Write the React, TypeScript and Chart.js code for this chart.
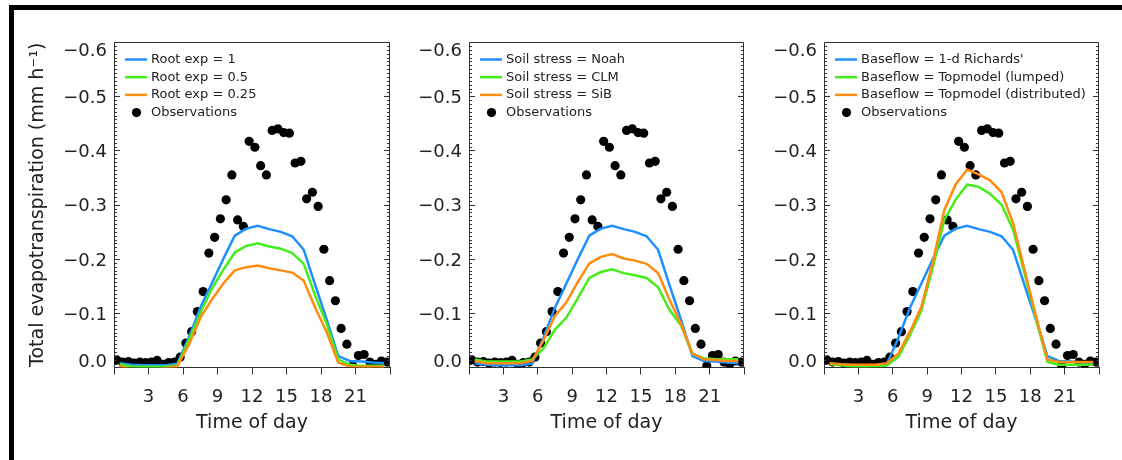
import React, { useEffect, useRef } from "react";
import { Chart, registerables } from "chart.js";

Chart.register(...registerables);

// ---------------- data ----------------
const obsHours = [
  0.25, 0.75, 1.25, 1.75, 2.25, 2.75, 3.25, 3.75, 4.25, 4.75, 5.25, 5.75,
  6.25, 6.75, 7.25, 7.75, 8.25, 8.75, 9.25, 9.75, 10.25, 10.75, 11.25, 11.75,
  12.25, 12.75, 13.25, 13.75, 14.25, 14.75, 15.25, 15.75, 16.25, 16.75, 17.25, 17.75,
  18.25, 18.75, 19.25, 19.75, 20.25, 20.75, 21.25, 21.75, 22.25, 22.75, 23.25, 23.75,
];
const observations = [
  -0.014, -0.010, -0.011, -0.008, -0.010, -0.009, -0.010, -0.013, -0.006, -0.009, -0.010, -0.019,
  -0.045, -0.066, -0.103, -0.140, -0.211, -0.240, -0.274, -0.309, -0.355, -0.272, -0.260, -0.417,
  -0.406, -0.372, -0.355, -0.437, -0.440, -0.433, -0.432, -0.377, -0.380, -0.311, -0.323, -0.297,
  -0.218, -0.160, -0.123, -0.072, -0.043, -0.003, -0.022, -0.024, -0.010, -0.006, -0.012, -0.010,
];

const modelHours = [
  0.5, 1.5, 2.5, 3.5, 4.5, 5.5, 6.5, 7.5, 8.5, 9.5, 10.5, 11.5,
  12.5, 13.5, 14.5, 15.5, 16.5, 17.5, 18.5, 19.5, 20.5, 21.5, 22.5, 23.5,
];
// control run (blue in every panel)
const controlRun = [
  -0.008, -0.005, -0.004, -0.004, -0.004, -0.007, -0.055, -0.110, -0.155, -0.200, -0.243, -0.256,
  -0.261, -0.255, -0.250, -0.242, -0.217, -0.152, -0.088, -0.021, -0.012, -0.011, -0.009, -0.008,
];
const rootExpHalf = [
  -0.006, -0.002, -0.0015, -0.0015, -0.0015, -0.004, -0.050, -0.100, -0.145, -0.180, -0.212, -0.224,
  -0.229, -0.223, -0.219, -0.211, -0.191, -0.132, -0.080, -0.015, -0.005, -0.003, -0.003, -0.003,
];
const rootExpQuarter = [
  -0.003, 0.004, 0.004, 0.004, 0.001, -0.002, -0.042, -0.091, -0.125, -0.155, -0.179, -0.185,
  -0.188, -0.183, -0.179, -0.175, -0.160, -0.110, -0.065, -0.009, -0.002, -0.0015, -0.0015, -0.0015,
];
const stressCLM = [
  -0.015, -0.011, -0.011, -0.011, -0.011, -0.015, -0.035, -0.070, -0.092, -0.128, -0.165, -0.176,
  -0.181, -0.174, -0.170, -0.165, -0.148, -0.106, -0.078, -0.025, -0.017, -0.015, -0.015, -0.015,
];
const stressSiB = [
  -0.012, -0.008, -0.008, -0.008, -0.008, -0.012, -0.050, -0.095, -0.120, -0.158, -0.192, -0.204,
  -0.209, -0.201, -0.197, -0.191, -0.174, -0.125, -0.080, -0.026, -0.015, -0.014, -0.012, -0.012,
];
const topmodelLumped = [
  -0.006, -0.004, -0.002, -0.002, -0.002, -0.004, -0.020, -0.060, -0.105, -0.185, -0.272, -0.310,
  -0.337, -0.333, -0.320, -0.300, -0.254, -0.174, -0.090, -0.010, -0.005, -0.005, -0.005, -0.005,
];
const topmodelDistributed = [
  -0.008, -0.006, -0.005, -0.005, -0.005, -0.008, -0.026, -0.066, -0.112, -0.195, -0.290, -0.338,
  -0.365, -0.356, -0.345, -0.323, -0.266, -0.180, -0.095, -0.015, -0.010, -0.010, -0.010, -0.010,
];

const panel1Labels = ["Root exp = 1", "Root exp = 0.5", "Root exp = 0.25"];
const panel2Labels = ["Soil stress = Noah", "Soil stress = CLM", "Soil stress = SiB"];
const panel3Labels = [
  "Baseflow = 1-d Richards'",
  "Baseflow = Topmodel (lumped)",
  "Baseflow = Topmodel (distributed)",
];
const obsLabel = "Observations";

const xTickValues = [0, 3, 6, 9, 12, 15, 18, 21, 24];
const xTickLabels = ["", "3", "6", "9", "12", "15", "18", "21", ""];
const yTickValues = [-0.6, -0.5, -0.4, -0.3, -0.2, -0.1, 0.0];
const yTickLabels = ["\u22120.6", "\u22120.5", "\u22120.4", "\u22120.3", "\u22120.2", "\u22120.1", "0.0"];
const yTitleText = "Total evapotranspiration (mm h\u207B\u00B9)";
const xTitleText = "Time of day";

// ---------------- styles ----------------
const FONT = '"DejaVu Sans", "Liberation Sans", sans-serif';
const TEXT = "#222";
const AXIS = "#333";
const BLUE = "#1e8fff";
const GREEN = "#44ee1a";
const ORANGE = "#ff8c10";
const MINOR_DIV = 14;

const pts = (xs: number[], ys: number[]) => xs.map((x, i) => ({ x, y: ys[i] }));

const idlPlugin = {
  id: "idlFrame",
  afterDraw(chart: any) {
    const { ctx, chartArea: a, scales } = chart;
    const y = scales.y;
    ctx.save();
    ctx.strokeStyle = AXIS;
    ctx.lineWidth = 1;
    // top and right frame lines
    ctx.beginPath();
    ctx.moveTo(a.left, a.top + 0.5);
    ctx.lineTo(a.right, a.top + 0.5);
    ctx.moveTo(a.right - 0.5, a.top);
    ctx.lineTo(a.right - 0.5, a.bottom);
    ctx.stroke();
    // inward major/minor ticks on both vertical axes
    const yMin = yTickValues[0];
    const yMax = yTickValues[yTickValues.length - 1];
    const step = (yTickValues[1] - yTickValues[0]) / MINOR_DIV;
    const n = Math.round((yMax - yMin) / step);
    ctx.beginPath();
    for (let k = 0; k <= n; k++) {
      const py = Math.round(y.getPixelForValue(yMin + k * step)) + 0.5;
      const len = k % MINOR_DIV === 0 ? 6 : 3;
      ctx.moveTo(a.left, py);
      ctx.lineTo(a.left + len, py);
      ctx.moveTo(a.right, py);
      ctx.lineTo(a.right - len, py);
    }
    ctx.stroke();

    // legend inside the plot
    const order: number[] = chart.options.plugins.idlFrame.order;
    ctx.font = `13px ${FONT}`;
    ctx.textBaseline = "middle";
    ctx.textAlign = "left";
    order.forEach((dsIndex, row) => {
      const ds = chart.data.datasets[dsIndex];
      const cy = a.top + 17.5 + row * 17.7;
      if (ds.showLine === false) {
        ctx.fillStyle = "#000";
        ctx.beginPath();
        ctx.arc(a.left + 22.5, cy, 4.6, 0, Math.PI * 2);
        ctx.fill();
      } else {
        ctx.strokeStyle = ds.borderColor;
        ctx.lineWidth = 2.5;
        ctx.beginPath();
        ctx.moveTo(a.left + 11, cy);
        ctx.lineTo(a.left + 33, cy);
        ctx.stroke();
      }
      ctx.fillStyle = TEXT;
      ctx.fillText(ds.label, a.left + 37, cy);
    });
    ctx.restore();
  },
};

type PanelCfg = {
  left: number;
  areaWidth: number;
  labels: string[];
  series: number[][];
  showYTitle: boolean;
};

const panels: PanelCfg[] = [
  { left: 14, areaWidth: 278, labels: panel1Labels, series: [controlRun, rootExpHalf, rootExpQuarter], showYTitle: true },
  { left: 369, areaWidth: 277, labels: panel2Labels, series: [controlRun, stressCLM, stressSiB], showYTitle: false },
  { left: 724, areaWidth: 277, labels: panel3Labels, series: [controlRun, topmodelLumped, topmodelDistributed], showYTitle: false },
];

const Y_AXIS_W = 100;
const RIGHT_PAD = 10;
const H = 460;

function Panel({ cfg }: { cfg: PanelCfg }) {
  const ref = useRef<HTMLCanvasElement>(null);
  const width = Y_AXIS_W + cfg.areaWidth + RIGHT_PAD;

  useEffect(() => {
    const colors = [BLUE, GREEN, ORANGE];
    const lineDs = (i: number) => ({
      label: cfg.labels[i],
      data: pts(modelHours, cfg.series[i]),
      borderColor: colors[i],
      backgroundColor: colors[i],
      borderWidth: 2.5,
      pointRadius: 0,
      tension: 0,
      fill: false,
      clip: { left: 3, top: 3, right: 3, bottom: 0 },
    });
    const chart = new Chart(ref.current as HTMLCanvasElement, {
      type: "line",
      data: {
        datasets: [
          lineDs(2),
          lineDs(1),
          lineDs(0),
          {
            label: obsLabel,
            data: pts(obsHours, observations),
            showLine: false,
            pointRadius: 4.6,
            pointBackgroundColor: "#000",
            pointBorderWidth: 0,
            borderColor: "#000",
            backgroundColor: "#000",
            clip: 0,
          } as any,
        ],
      },
      options: {
        responsive: false,
        animation: false,
        devicePixelRatio: 1,
        events: [],
        layout: { padding: { left: 0, right: RIGHT_PAD, top: 42, bottom: 12.5 } },
        plugins: {
          legend: { display: false },
          tooltip: { enabled: false },
          idlFrame: { order: [2, 1, 0, 3] },
        } as any,
        scales: {
          x: {
            type: "linear",
            min: xTickValues[0],
            max: xTickValues[xTickValues.length - 1],
            afterFit: (s: any) => {
              s.height = 80;
            },
            afterBuildTicks: (s: any) => {
              s.ticks = xTickValues.map((v) => ({ value: v }));
            },
            ticks: {
              autoSkip: false,
              maxRotation: 0,
              padding: 12,
              color: TEXT,
              font: { family: FONT, size: 18 },
              callback: (_v: any, i: number) => xTickLabels[i],
            },
            grid: {
              drawOnChartArea: false,
              drawTicks: true,
              tickLength: 7,
              color: AXIS,
              tickColor: AXIS,
              tickWidth: 1,
            },
            border: { display: true, color: AXIS, width: 1 },
            title: {
              display: true,
              text: xTitleText,
              color: TEXT,
              font: { family: FONT, size: 19 },
              padding: { top: 0, bottom: 13 },
            },
          },
          y: {
            type: "linear",
            min: yTickValues[0],
            max: yTickValues[yTickValues.length - 1],
            reverse: true,
            afterFit: (s: any) => {
              s.width = Y_AXIS_W;
            },
            afterBuildTicks: (s: any) => {
              s.ticks = yTickValues.map((v) => ({ value: v }));
            },
            ticks: {
              padding: 7,
              labelOffset: 2,
              color: TEXT,
              font: { family: FONT, size: 18, lineHeight: 0.8 },
              callback: (_v: any, i: number) => {
                const t = yTickLabels[i];
                if (i === 0) return ["", t];
                if (i === yTickLabels.length - 1) return [t, ""];
                return t;
              },
            },
            grid: { drawOnChartArea: false, drawTicks: false, color: AXIS },
            border: { display: true, color: AXIS, width: 1 },
            title: {
              display: cfg.showYTitle,
              text: yTitleText,
              color: TEXT,
              font: { family: FONT, size: 19 },
              padding: { top: 12.6, bottom: 0 },
            },
          },
        },
      } as any,
      plugins: [idlPlugin],
    });
    return () => chart.destroy();
  }, []);

  return (
    <canvas
      ref={ref}
      width={width}
      height={H}
      style={{ position: "absolute", left: cfg.left, top: 0, width, height: H }}
    />
  );
}

export default function App() {
  return (
    <div
      style={{
        position: "fixed",
        left: 0,
        top: 0,
        width: 1122,
        height: 460,
        background: "#fff",
        overflow: "hidden",
      }}
    >
      <div
        style={{
          position: "absolute",
          left: 9,
          top: 5,
          width: 1122 - 9,
          height: 460 - 5,
          borderTop: "5px solid #000",
          borderLeft: "5px solid #000",
          boxSizing: "border-box",
        }}
      />
      {panels.map((p, i) => (
        <Panel key={i} cfg={p} />
      ))}
    </div>
  );
}
